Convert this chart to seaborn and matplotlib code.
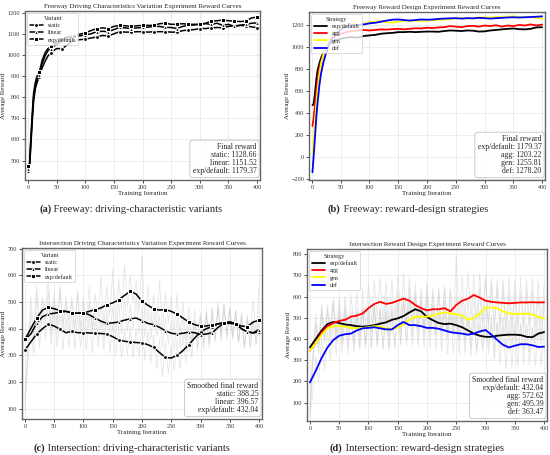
import pandas as pd
import seaborn as sns
import matplotlib
matplotlib.use("Agg")
import matplotlib.pyplot as plt

# ---- Freeway data (iterations are uneven: dense at the start) ----
iter_fw = [1, 3, 5, 8, 10, 13, 16, 20, 25, 30, 35, 40] + list(range(50, 401, 10))

fw_static = [450, 470, 560, 700, 780, 840, 870, 895, 940, 970, 995, 1010,
             1030, 1030, 1050, 1070, 1072, 1075, 1080, 1085, 1092, 1090,
             1100, 1110, 1108, 1108, 1110, 1110, 1108, 1110, 1110, 1110,
             1108, 1108, 1115, 1118, 1120, 1125, 1125, 1128, 1130, 1128,
             1135, 1138, 1140, 1138, 1133, 1128.66]
fw_linear = [460, 480, 580, 720, 800, 850, 880, 905, 960, 995, 1020, 1030,
             1050, 1065, 1075, 1085, 1090, 1095, 1100, 1110, 1112, 1110,
             1120, 1130, 1128, 1125, 1128, 1130, 1132, 1135, 1135, 1130,
             1130, 1125, 1135, 1140, 1142, 1145, 1148, 1145, 1150, 1140,
             1145, 1135, 1140, 1145, 1150, 1151.52]
fw_exp = [475, 490, 600, 740, 820, 870, 900, 920, 975, 1010, 1030, 1040,
          1060, 1075, 1085, 1090, 1098, 1105, 1115, 1125, 1128, 1125,
          1135, 1140, 1138, 1135, 1138, 1140, 1140, 1140, 1148, 1150,
          1145, 1145, 1148, 1145, 1145, 1145, 1150, 1160, 1162, 1165,
          1162, 1160, 1158, 1160, 1175, 1179.37]

fw_r_exp = [470, 480, 560, 720, 790, 850, 900, 950, 1000, 1030, 1050, 1060,
            1075, 1085, 1090, 1085, 1100, 1105, 1110, 1120, 1125, 1128,
            1135, 1135, 1138, 1135, 1138, 1140, 1140, 1138, 1145, 1150,
            1148, 1145, 1150, 1148, 1140, 1142, 1150, 1155, 1160, 1165,
            1168, 1162, 1160, 1165, 1178, 1179.37]
fw_r_agg = [280, 350, 450, 600, 700, 800, 870, 930, 1000, 1050, 1080, 1100,
            1120, 1135, 1145, 1150, 1155, 1150, 1155, 1160, 1158, 1162,
            1165, 1160, 1165, 1170, 1168, 1175, 1172, 1178, 1180, 1190,
            1185, 1180, 1190, 1192, 1185, 1195, 1190, 1198, 1185, 1195,
            1190, 1200, 1195, 1205, 1195, 1203.22]
fw_r_gen = [30, 150, 300, 500, 620, 750, 850, 930, 1010, 1070, 1110, 1140,
            1170, 1190, 1200, 1195, 1210, 1225, 1230, 1235, 1225, 1220,
            1230, 1235, 1238, 1240, 1235, 1240, 1245, 1245, 1250, 1255,
            1260, 1262, 1258, 1265, 1268, 1270, 1268, 1272, 1270, 1275,
            1278, 1272, 1270, 1275, 1265, 1255.81]
fw_r_def = [-140, 0, 150, 380, 500, 650, 760, 860, 950, 1020, 1070, 1110,
            1160, 1185, 1200, 1200, 1205, 1215, 1220, 1230, 1240, 1248,
            1250, 1245, 1240, 1245, 1250, 1248, 1250, 1255, 1258, 1260,
            1262, 1258, 1262, 1260, 1265, 1262, 1258, 1262, 1265, 1268,
            1270, 1268, 1270, 1272, 1275, 1278.20]

# ---- Intersection data: smoothed curves every 10 iterations ----
iter_is = list(range(0, 401, 10))
is_exp = [360, 400, 440, 470, 480, 475, 468, 465, 460, 458,
          460, 465, 472, 478, 490, 497, 508, 525, 540, 530,
          503, 488, 475, 470, 472, 465, 455, 440, 425, 415,
          410, 410, 415, 418, 420, 420, 418, 410, 408, 425, 432.04]
is_linear = [360, 380, 420, 445, 455, 458, 462, 465, 460, 458,
             460, 452, 440, 428, 420, 422, 425, 432, 437, 440,
             430, 420, 415, 405, 392, 383, 380, 383, 387, 385,
             378, 380, 385, 405, 420, 425, 420, 400, 388, 385, 396.57]
is_static = [320, 350, 380, 400, 417, 410, 398, 385, 390, 385,
             385, 384, 383, 382, 380, 370, 358, 353, 350, 348,
             347, 340, 330, 310, 292, 290, 300, 318, 340, 365,
             388, 400, 408, 418, 425, 425, 418, 400, 388, 384, 388.25]
is_agg = [345, 380, 430, 460, 475, 485, 490, 505, 510, 520,
          545, 565, 575, 565, 570, 580, 590, 580, 560, 545,
          535, 540, 540, 545, 530, 560, 580, 590, 607, 595,
          580, 575, 572, 570, 568, 570, 572, 572, 573, 572, 572.62]
is_gen = [345, 380, 420, 450, 460, 462, 458, 452, 450, 452,
          455, 460, 458, 450, 445, 455, 468, 490, 505, 505,
          505, 510, 520, 525, 520, 518, 510, 490, 500, 520,
          548, 548, 545, 530, 520, 518, 518, 520, 515, 505, 495.39]
is_def = [195, 250, 310, 360, 395, 415, 422, 425, 440, 450,
          452, 455, 450, 445, 445, 465, 480, 465, 465, 460,
          452, 452, 448, 440, 432, 428, 425, 420, 425, 435,
          442, 420, 395, 372, 360, 368, 375, 375, 370, 362, 363.47]

# raw (unsmoothed) intersection rewards, every 5 iterations
iter_raw = list(range(0, 401, 5))
raw_exp = [90, 330, 520, 380, 560, 430, 520, 470, 590, 400,
           530, 380, 560, 420, 500, 390, 520, 410, 540, 380,
           500, 430, 560, 400, 530, 440, 600, 410, 560, 450,
           620, 430, 590, 470, 640, 480, 600, 500, 580, 460,
           670, 430, 560, 420, 530, 410, 580, 400, 540, 420,
           520, 390, 530, 380, 500, 360, 480, 350, 470, 360,
           460, 370, 470, 340, 480, 360, 500, 350, 490, 370,
           480, 360, 470, 350, 460, 340, 450, 370, 510, 380, 560]
raw_linear = [150, 300, 470, 350, 530, 390, 500, 420, 540, 380,
              510, 420, 550, 390, 520, 430, 500, 390, 530, 410,
              520, 380, 500, 390, 480, 370, 490, 360, 470, 380,
              480, 370, 500, 380, 510, 390, 490, 400, 520, 380,
              480, 370, 470, 360, 460, 370, 450, 330, 440, 340,
              430, 320, 440, 330, 450, 320, 440, 340, 430, 330,
              440, 320, 450, 330, 460, 350, 480, 370, 490, 380,
              470, 370, 460, 350, 440, 330, 440, 330, 430, 340, 450]
raw_static = [120, 280, 420, 300, 460, 330, 470, 360, 500, 340,
              470, 330, 460, 320, 440, 330, 460, 320, 450, 330,
              440, 320, 450, 310, 440, 330, 430, 320, 440, 310,
              420, 300, 410, 290, 400, 300, 410, 290, 400, 290,
              410, 280, 390, 270, 380, 250, 360, 220, 350, 230,
              340, 240, 360, 250, 380, 270, 400, 290, 430, 320,
              450, 340, 460, 350, 470, 360, 480, 370, 490, 360,
              480, 370, 470, 350, 450, 330, 440, 330, 430, 340, 440]
raw_agg = [60, 300, 480, 360, 540, 400, 560, 420, 580, 430,
           590, 420, 600, 440, 610, 450, 620, 440, 640, 460,
           660, 480, 680, 500, 690, 480, 670, 470, 680, 490,
           700, 500, 710, 490, 690, 470, 660, 450, 640, 440,
           630, 450, 640, 450, 640, 440, 650, 430, 640, 460,
           790, 480, 700, 490, 720, 500, 700, 490, 710, 480,
           700, 470, 690, 460, 680, 460, 680, 450, 690, 450,
           680, 460, 690, 460, 680, 470, 690, 460, 680, 470, 660]
raw_gen = [40, 280, 460, 330, 520, 380, 540, 390, 560, 380,
           550, 380, 540, 370, 530, 370, 540, 360, 550, 370,
           560, 360, 560, 370, 550, 360, 540, 350, 530, 360,
           560, 370, 580, 390, 600, 410, 620, 400, 610, 410,
           600, 420, 610, 420, 630, 430, 640, 420, 620, 420,
           610, 410, 600, 390, 580, 400, 600, 420, 640, 440,
           670, 440, 660, 430, 650, 420, 640, 410, 620, 410,
           620, 420, 620, 410, 630, 410, 620, 400, 600, 400, 590]
raw_def = [30, 150, 320, 200, 400, 250, 440, 300, 480, 320,
           500, 330, 510, 330, 510, 340, 530, 350, 540, 360,
           540, 360, 550, 360, 540, 350, 530, 350, 540, 360,
           570, 380, 580, 370, 560, 370, 560, 360, 550, 360,
           540, 360, 540, 350, 540, 340, 530, 330, 520, 330,
           520, 330, 510, 330, 510, 320, 520, 330, 530, 340,
           540, 330, 510, 300, 480, 280, 460, 260, 450, 260,
           460, 270, 470, 280, 470, 280, 460, 270, 450, 270, 450]

variant_names = ["static", "linear", "exp/default"]
variant_markers = ["o", "^", "s"]
strategy_names = ["exp/default", "agg", "gen", "def"]
strategy_colors = ["black", "red", "yellow", "blue"]

sns.set_theme(style="whitegrid")
plt.rcParams["font.family"] = ["Liberation Serif", "DejaVu Serif"]
plt.rcParams.update({
    "axes.edgecolor": "#666666",
    "axes.linewidth": 1.0,
    "grid.color": "#e6e6e6",
    "grid.linewidth": 0.5,
    "xtick.bottom": True,
    "ytick.left": True,
    "xtick.major.size": 2,
    "ytick.major.size": 2,
    "xtick.major.width": 0.6,
    "ytick.major.width": 0.6,
    "xtick.major.pad": 1.5,
    "ytick.major.pad": 1.5,
    "xtick.color": "#333333",
    "ytick.color": "#333333",
})

W, H = 550, 455
fig = plt.figure(figsize=(5.5, 4.55), dpi=100)


def px_axes(left, top, right, bottom):
    return fig.add_axes([left / W, 1 - bottom / H, (right - left) / W, (bottom - top) / H])


def style_axes(ax, title, ylim):
    ax.set_title(title, fontsize=5.0, pad=2)
    ax.set_xlabel("Training Iteration", fontsize=5.0, labelpad=1)
    ax.set_ylabel("Average Reward", fontsize=5.0, labelpad=1)
    ax.tick_params(labelsize=4.4)
    ax.set_xlim(-5, 405)
    ax.set_ylim(*ylim)
    ax.set_xticks(range(0, 401, 50))


def add_legend(ax, title):
    leg = ax.legend(title=title, loc="upper left", fontsize=4.4, title_fontsize=4.6,
                    frameon=True, framealpha=0.8, borderpad=0.4, handlelength=2.1,
                    labelspacing=0.3, borderaxespad=0.4)
    leg.get_frame().set_edgecolor("#cccccc")
    leg.get_frame().set_linewidth(0.6)
    # one marker in the middle of each legend line
    for h in leg.legend_handles:
        if hasattr(h, "get_xdata") and len(h.get_xdata()) == 3:
            h.set_markevery([1])


def add_final_box(ax, header, names, values):
    lines = [header] + [f"{n}: {v[-1]:.2f}" for n, v in zip(names, values)]
    ax.text(0.985, 0.03, "\n".join(lines), transform=ax.transAxes, ha="right", va="bottom",
            fontsize=5.6, multialignment="right", linespacing=1.0,
            bbox=dict(boxstyle="round,pad=0.35", fc="white", ec="#bbbbbb", lw=0.6, alpha=0.9))


def add_caption(ax_ref, x_px, y_px, tag, text):
    t1 = fig.text(x_px / W, 1 - y_px / H, tag, fontsize=7.6, fontweight="bold",
                  ha="left", va="center")
    ax_ref.annotate(" " + text, xy=(1, 0), xycoords=t1, va="bottom", ha="left",
                    fontsize=7.6, annotation_clip=False)


# (a) freeway driving-characteristic variants
ax_a = px_axes(25, 11, 260, 180)
mark_fw = [i for i, it in enumerate(iter_fw) if it == 1 or it % 20 == 0]
for name, vals, mk in zip(variant_names, [fw_static, fw_linear, fw_exp], variant_markers):
    df = pd.DataFrame({"iteration": iter_fw, "reward": vals})
    sns.lineplot(data=df, x="iteration", y="reward", ax=ax_a, color="black", lw=1.1,
                 marker=mk, markersize=2.8, markevery=mark_fw, label=name)
style_axes(ax_a, "Freeway Driving Characteristics Variation Experiment Reward Curves", (408, 1208))
add_legend(ax_a, "Variant")
add_final_box(ax_a, "Final reward", variant_names, [fw_static, fw_linear, fw_exp])

# (b) freeway reward-design strategies
ax_b = px_axes(309, 12, 545, 180)
for name, vals, col in zip(strategy_names, [fw_r_exp, fw_r_agg, fw_r_gen, fw_r_def], strategy_colors):
    df = pd.DataFrame({"iteration": iter_fw, "reward": vals})
    sns.lineplot(data=df, x="iteration", y="reward", ax=ax_b, color=col, lw=1.3, label=name)
style_axes(ax_b, "Freeway Reward Design Experiment Reward Curves", (-210, 1318))
add_legend(ax_b, "Strategy")
add_final_box(ax_b, "Final reward", strategy_names, [fw_r_exp, fw_r_agg, fw_r_gen, fw_r_def])

# (c) intersection driving-characteristic variants
ax_c = px_axes(22, 248, 262, 419)
for raw in [raw_static, raw_linear, raw_exp]:
    df = pd.DataFrame({"iteration": iter_raw, "reward": raw})
    sns.lineplot(data=df, x="iteration", y="reward", ax=ax_c, color="#cccccc", lw=0.6, alpha=0.5)
for name, vals, mk in zip(variant_names, [is_static, is_linear, is_exp], variant_markers):
    df = pd.DataFrame({"iteration": iter_is, "reward": vals})
    sns.lineplot(data=df, x="iteration", y="reward", ax=ax_c, color="black", lw=1.1,
                 marker=mk, markersize=2.8, markevery=2, label=name)
style_axes(ax_c, "Intersection Driving Characteristics Variation Experiment Reward Curves", (61, 703))
add_legend(ax_c, "Variant")
add_final_box(ax_c, "Smoothed final reward", variant_names, [is_static, is_linear, is_exp])

# (d) intersection reward-design strategies
ax_d = px_axes(307, 249, 547, 421)
for raw in [raw_exp, raw_agg, raw_gen, raw_def]:
    df = pd.DataFrame({"iteration": iter_raw, "reward": raw})
    sns.lineplot(data=df, x="iteration", y="reward", ax=ax_d, color="#cccccc", lw=0.6, alpha=0.5)
for name, vals, col in zip(strategy_names, [is_exp, is_agg, is_gen, is_def], strategy_colors):
    df = pd.DataFrame({"iteration": iter_is, "reward": vals})
    sns.lineplot(data=df, x="iteration", y="reward", ax=ax_d, color=col, lw=1.3, label=name)
style_axes(ax_d, "Intersection Reward Design Experiment Reward Curves", (13, 824))
add_legend(ax_d, "Strategy")
add_final_box(ax_d, "Smoothed final reward", strategy_names, [is_exp, is_agg, is_gen, is_def])

# captions under the panels
add_caption(ax_a, 39, 209, "(a)", "Freeway: driving-characteristic variants")
add_caption(ax_b, 328, 209, "(b)", "Freeway: reward-design strategies")
add_caption(ax_c, 33, 448, "(c)", "Intersection: driving-characteristic variants")
add_caption(ax_d, 330, 448, "(d)", "Intersection: reward-design strategies")

fig.savefig("out.png", dpi=100)
